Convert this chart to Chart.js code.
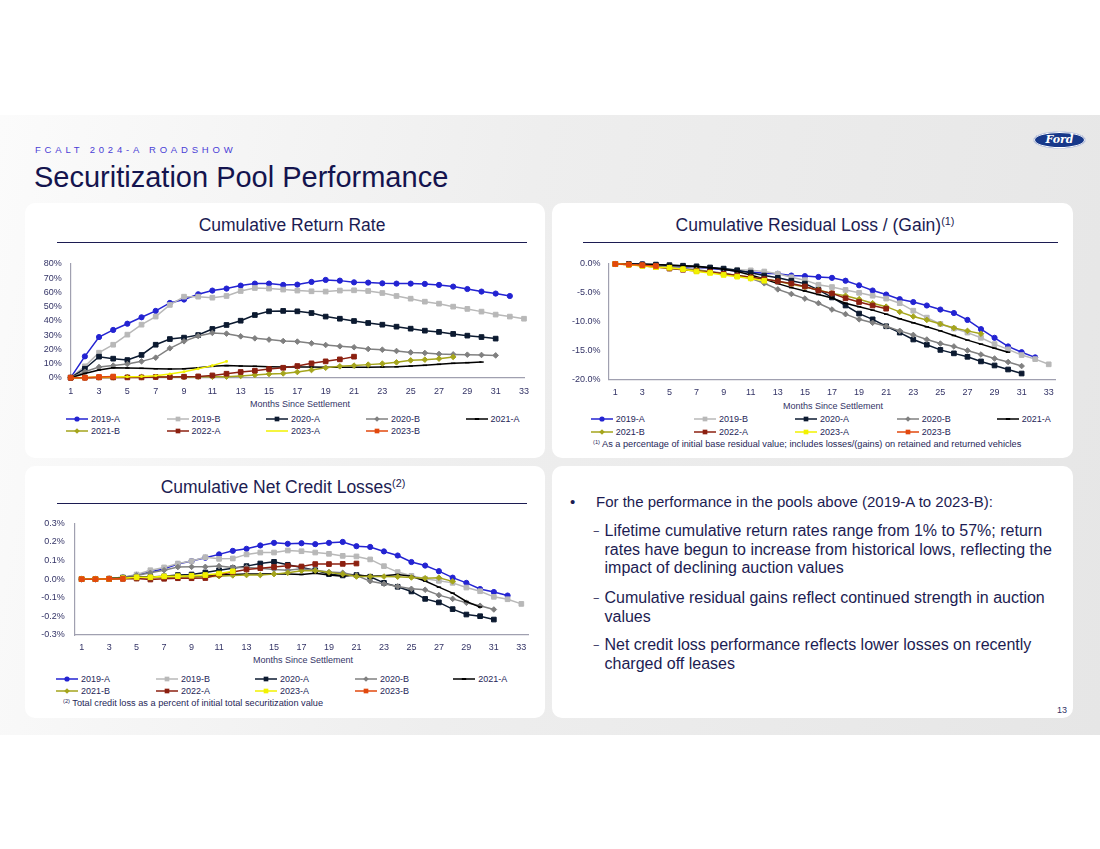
<!DOCTYPE html>
<html><head><meta charset="utf-8">
<script src="https://cdn.jsdelivr.net/npm/chart.js@4.4.1/dist/chart.umd.min.js"></script>
<style>
body{margin:0;width:1100px;height:849px;position:relative;background:#fff;font-family:Arial,"Liberation Sans",sans-serif;overflow:hidden;}
#band{position:absolute;left:0;top:115px;width:1100px;height:620px;background:linear-gradient(100deg,#fbfbfb 0%,#eeeeee 45%,#e6e6e6 100%);}
.panel{position:absolute;background:#fff;border-radius:10px;}
.t{position:absolute;white-space:nowrap;color:#1c1c52;}
.rule{position:absolute;height:1px;background:#1c1c52;}
canvas.ch{position:absolute;}
.lg{position:absolute;height:10px;white-space:nowrap;font-size:9px;line-height:10px;color:#262658;}
.lg canvas{position:absolute;left:0;top:1px;}
.lg span{position:absolute;left:25px;top:0;}
sup{font-size:0.62em;vertical-align:0.6em;line-height:0;}
.dash{font-size:11px;}
</style></head>
<body>
<div id="band"></div>
<div class="panel" style="left:25px;top:203px;width:520px;height:255px"></div>
<div class="panel" style="left:552px;top:203px;width:521px;height:255px"></div>
<div class="panel" style="left:25px;top:466px;width:520px;height:252px"></div>
<div class="panel" style="left:552px;top:466px;width:521px;height:252px"></div>

<div class="t" style="left:35px;top:145px;font-size:9.5px;line-height:10px;letter-spacing:3.8px;color:#4a40d6">FCALT 2024-A ROADSHOW</div>
<div class="t" style="left:34px;top:163px;font-size:29px;line-height:29px;color:#14144e">Securitization Pool Performance</div>
<div style="position:absolute;left:1033px;top:131px;width:51px;height:16px;border-radius:50%;background:#17388a;border:1px solid #d8dcea;box-shadow:inset 0 0 0 1px #fff;color:#fff;font:italic bold 11px 'DejaVu Serif',serif;text-align:center;line-height:16px">Ford</div>

<div class="t" style="left:42px;top:216px;width:500px;text-align:center;font-size:17.5px;line-height:18px">Cumulative Return Rate</div>
<div class="rule" style="left:57px;top:242px;width:470px"></div>
<div class="t" style="left:565px;top:216px;width:500px;text-align:center;font-size:17.5px;line-height:18px">Cumulative Residual Loss / (Gain)<sup>(1)</sup></div>
<div class="rule" style="left:583px;top:242px;width:475px"></div>
<div class="t" style="left:33px;top:478px;width:500px;text-align:center;font-size:17.5px;line-height:18px">Cumulative Net Credit Losses<sup>(2)</sup></div>
<div class="rule" style="left:57px;top:503px;width:470px"></div>

<canvas class="ch" id="c1" width="510" height="140" style="left:30px;top:255px"></canvas>
<canvas class="ch" id="c2" width="510" height="140" style="left:560px;top:255px"></canvas>
<canvas class="ch" id="c3" width="510" height="140" style="left:30px;top:515px"></canvas>

<div class="t" style="left:50px;top:399px;width:500px;text-align:center;font-size:9px;line-height:10px;color:#333366">Months Since Settlement</div>
<div class="t" style="left:583px;top:401px;width:500px;text-align:center;font-size:9px;line-height:10px;color:#333366">Months Since Settlement</div>
<div class="t" style="left:53px;top:655px;width:500px;text-align:center;font-size:9px;line-height:10px;color:#333366">Months Since Settlement</div>

<div class="t" style="left:593px;top:439px;font-size:9.2px;line-height:10px;color:#262658"><sup>(1)</sup> As a percentage of initial base residual value; includes losses/(gains) on retained and returned vehicles</div>
<div class="t" style="left:63px;top:698px;font-size:9.2px;line-height:10px;color:#262658"><sup>(2)</sup> Total credit loss as a percent of initial total securitization value</div>

<div id="legends"></div>

<div class="t" style="left:570px;top:493px;font-size:15px;line-height:18px">•</div>
<div class="t" style="left:596px;top:493px;font-size:15px;line-height:18px">For the performance in the pools above (2019-A to 2023-B):</div>
<div class="t dash" style="left:593px;top:526px;line-height:11px">−</div>
<div class="t" style="left:604.5px;top:522px;font-size:16px;line-height:18.6px">Lifetime cumulative return rates range from 1% to 57%; return<br>rates have begun to increase from historical lows, reflecting the<br>impact of declining auction values</div>
<div class="t dash" style="left:593px;top:593px;line-height:11px">−</div>
<div class="t" style="left:604.5px;top:589px;font-size:16px;line-height:18.6px">Cumulative residual gains reflect continued strength in auction<br>values</div>
<div class="t dash" style="left:593px;top:640px;line-height:11px">−</div>
<div class="t" style="left:604.5px;top:636px;font-size:16px;line-height:18.6px">Net credit loss performance reflects lower losses on recently<br>charged off leases</div>
<div class="t" style="left:1057px;top:705px;font-size:9px;line-height:10px;color:#333366">13</div>

<script>
// ---- categories ----
const months = ['1','2','3','4','5','6','7','8','9','10','11','12','13','14','15','16','17','18','19','20','21','22','23','24','25','26','27','28','29','30','31','32','33'];
const seriesNames = ['2019-A','2019-B','2020-A','2020-B','2021-A','2021-B','2022-A','2023-A','2023-B'];

// ---- Cumulative Return Rate (%) ----
const ret2019A = [0,15,28.6,33.6,38,42.5,47,52.6,55,58.7,61.3,62.7,64.8,66.2,66.2,65.3,65.5,67.4,68.8,68.3,67.1,66.9,66.4,66.2,66.2,66,65.3,64.1,62.4,60.6,59.2,57.5];
const ret2019B = [0,8,17.6,23.2,30.3,37.3,43,51.2,57,57,56.3,57.5,61,63.1,62.7,62,61.3,60.8,60.6,61.3,61.5,61,59.6,57.5,55.6,53.5,52.1,50,48.4,46.5,44.4,43,41.5];
const ret2020A = [0,6.3,14.8,13.4,12.4,16,23.2,27.2,28.2,30,34.3,37.1,40.1,44.1,46.7,47,46.7,45.5,43,41.5,39.9,38.5,37.3,35.9,34.5,33.1,32.2,30.8,29.6,28.6,27.5];
const ret2020B = [0,4.2,7.5,8.5,9.6,11.5,14.1,20.7,25.6,29.3,31.5,31,29.1,27.7,26.8,25.8,25.4,24.2,23,22.1,21.4,20.2,19.7,18.8,17.8,17.4,16.7,16.4,16.2,16,15.7];
const ret2021A = [0,3,5.4,7,6.8,6.6,6.3,6.1,6.3,7,8,8.5,8.2,8,7.7,7.5,7.5,7.5,7.3,7.3,7.3,7.3,7.5,7.7,8.2,8.7,9.4,10.1,10.6,11];
const ret2021B = [0,0,0.2,0.2,0.5,0.5,0.5,0.5,0.5,0.7,0.7,0.7,1.2,1.9,2.6,3,4,5.4,7,8,8.5,9.2,9.9,10.8,12.2,12.7,13.4,14.6];
const ret2022A = [0,0,0.2,0.2,0.2,0.2,0.5,0.5,0.7,0.9,1.6,2.8,4,4.9,6.1,7,8.2,10.1,11.5,12.9,14.8];
const ret2023A = [0,0.2,0.5,0.5,0.7,0.9,1.4,2.6,4.2,6.3,8.5,11.5];
const ret2023B = [0,0,0.5,0.8];

// ---- Cumulative Residual Loss / (Gain) (%) ----
const res2019A = [0,0,-0.05,-0.2,-0.35,-0.5,-0.6,-0.8,-1.0,-1.2,-1.4,-1.6,-1.7,-2.0,-2.1,-2.25,-2.4,-2.9,-3.7,-4.6,-5.3,-6.1,-6.6,-7.2,-7.9,-8.5,-9.7,-11.3,-12.8,-14.3,-15.3,-16.2];
const res2019B = [0,-0.05,-0.1,-0.2,-0.3,-0.4,-0.55,-0.7,-0.85,-1.0,-1.1,-1.3,-1.7,-2.3,-2.8,-3.6,-4.0,-4.5,-5.0,-5.5,-6.0,-6.8,-8.1,-9.3,-10.4,-11.2,-11.9,-12.8,-13.9,-14.8,-15.8,-16.5,-17.4];
const res2020A = [0,0,-0.05,-0.1,-0.2,-0.3,-0.4,-0.6,-0.8,-1.1,-1.5,-2.0,-2.4,-2.9,-3.4,-4.5,-5.8,-7.2,-8.6,-9.6,-10.8,-11.9,-13.1,-14.0,-14.9,-15.5,-16.1,-16.9,-17.6,-18.3,-19.0];
const res2020B = [0,-0.1,-0.2,-0.4,-0.6,-0.8,-1.0,-1.3,-1.6,-2.0,-2.5,-3.35,-4.4,-5.2,-6.0,-6.8,-7.9,-8.7,-9.6,-10.2,-10.8,-11.6,-12.3,-13.1,-13.8,-14.3,-15.0,-15.7,-16.4,-17.0,-17.7];
const res2021A = [0,0,-0.05,-0.1,-0.2,-0.3,-0.45,-0.65,-0.9,-1.3,-1.9,-2.6,-3.4,-4.1,-4.7,-5.3,-5.9,-6.8,-7.4,-8.0,-8.7,-9.5,-10.2,-10.9,-11.6,-12.4,-13.2,-13.9,-14.6,-15.3];
const res2021B = [0,-0.1,-0.3,-0.5,-0.7,-0.9,-1.1,-1.4,-1.7,-2.0,-2.3,-2.6,-3.0,-3.5,-4.0,-4.5,-5.1,-5.5,-6.1,-6.8,-7.4,-8.3,-9.1,-9.7,-10.4,-11.1,-11.6,-12.1];
const res2022A = [0,-0.1,-0.3,-0.5,-0.8,-1.0,-1.2,-1.4,-1.7,-2.0,-2.3,-2.6,-3.0,-3.4,-3.9,-4.6,-5.1,-5.95,-6.6,-7.2,-7.75];
const res2023A = [0,-0.15,-0.35,-0.55,-0.65,-0.9,-1.3,-1.55,-1.9,-2.2,-2.5,-2.9];
const res2023B = [0,-0.1,-0.2,-0.35];

// ---- Cumulative Net Credit Losses (%) ----
const ncl2019A = [0,0,0.002,0.008,0.023,0.038,0.056,0.081,0.097,0.115,0.133,0.152,0.163,0.181,0.195,0.19,0.193,0.188,0.195,0.2,0.177,0.173,0.149,0.127,0.092,0.073,0.043,0.008,-0.02,-0.053,-0.069,-0.088];
const ncl2019B = [0,0,0.003,0.01,0.025,0.048,0.063,0.084,0.097,0.118,0.109,0.111,0.133,0.143,0.143,0.154,0.15,0.143,0.136,0.125,0.122,0.106,0.07,0.038,0.018,0.002,-0.009,-0.02,-0.045,-0.065,-0.095,-0.108,-0.133];
const ncl2020A = [0,0,0.002,0.008,0.012,0.012,0.015,0.022,0.025,0.036,0.048,0.059,0.07,0.084,0.093,0.077,0.063,0.048,0.027,0.02,0.022,0.013,-0.02,-0.041,-0.066,-0.106,-0.125,-0.161,-0.19,-0.199,-0.217];
const ncl2020B = [0,0,0.003,0.01,0.02,0.034,0.048,0.065,0.066,0.066,0.07,0.063,0.063,0.059,0.052,0.048,0.056,0.048,0.038,0.034,0.02,-0.011,-0.025,-0.039,-0.052,-0.057,-0.086,-0.106,-0.127,-0.143,-0.163];
const ncl2021A = [0,0,0.003,0.008,0.01,0.01,0.012,0.015,0.015,0.018,0.022,0.025,0.027,0.027,0.029,0.027,0.025,0.032,0.022,0.016,0.022,0.016,0.018,0.025,0.016,-0.01,-0.043,-0.075,-0.12,-0.15];
const ncl2021B = [0,0,0.002,0.004,0.006,0.008,0.01,0.012,0.012,0.013,0.016,0.02,0.022,0.022,0.027,0.034,0.045,0.046,0.036,0.027,0.014,0.014,0.014,0.013,0.009,0.005,0.008,-0.012];
const ncl2022A = [0,0,0,0.002,0.003,-0.002,0.002,0.005,0.005,0.006,0.025,0.038,0.052,0.059,0.065,0.072,0.068,0.081,0.081,0.082,0.084];
const ncl2023A = [0,0,0.002,0.005,0.01,0.01,0.015,0.016,0.018,0.022,0.03,0.042];
const ncl2023B = [0,0,0.002,0.002];

// ---- styles ----
const seriesColors = ['#2323d2','#b8b8b8','#0c1a30','#808080','#000000','#a5a51c','#8c2010','#f2f200','#e2480e'];
const seriesPoints = ['circle','rect','rect','rectRot','line','rectRot','rect','rect','rect'];
const seriesRadius = [2.6,3.3,3.3,2.8,2.2,2.8,3.3,3.3,3.3];
const FONT = "'Liberation Sans', Arial, sans-serif";
const tickColor = '#333366';
const axisColor = '#a0a0b0';

function makeDatasets(list, radiusOverride) {
  return list.map((d, i) => ({
    label: seriesNames[i], data: d,
    borderColor: seriesColors[i], backgroundColor: seriesColors[i],
    pointStyle: seriesPoints[i],
    pointRadius: radiusOverride && radiusOverride[i] !== undefined ? radiusOverride[i] : seriesRadius[i],
    pointBorderWidth: seriesPoints[i] === 'line' ? 1.5 : 1,
    borderWidth: 1.5, tension: 0, clip: false, order: list.length - i
  }));
}

function buildChart(id, datasets, c) {
  return new Chart(document.getElementById(id), {
    type: 'line',
    data: { labels: months, datasets: datasets },
    options: {
      responsive: false, animation: false, devicePixelRatio: 1,
      layout: { padding: { top: c.padTop, right: c.padRight, left: 0, bottom: 0 } },
      plugins: { legend: { display: false }, tooltip: { enabled: false } },
      scales: {
        x: {
          type: 'category', offset: c.offset,
          grid: { display: false, drawTicks: false },
          border: { color: axisColor, width: 1.2 },
          ticks: { autoSkip: false, maxRotation: 0, padding: c.xPad, color: tickColor, font: { size: 9, family: FONT },
            callback: function (v, i) { return i % 2 === 0 ? this.getLabelForValue(v) : ''; } },
          afterFit: s => { s.height = c.xH; s.paddingLeft = 0; s.paddingRight = 0; }
        },
        y: {
          min: c.min, max: c.max,
          grid: { display: false, drawTicks: false },
          border: { color: axisColor, width: 1.2 },
          ticks: { stepSize: c.step, padding: c.yPad, color: tickColor, font: { size: 9, family: FONT }, callback: c.fmt },
          afterFit: s => { s.width = c.yW; s.paddingTop = 0; s.paddingBottom = 0; }
        }
      }
    }
  });
}

buildChart('c1', makeDatasets([ret2019A, ret2019B, ret2020A, ret2020B, ret2021A, ret2021B, ret2022A, ret2023A, ret2023B], {7: 1.2}), {
  padTop: 9, padRight: 16, offset: false, xPad: 8, xH: 17.3, yW: 40.7, yPad: 9,
  min: 0, max: 80, step: 10, fmt: v => v + '%'
});
buildChart('c2', makeDatasets([res2019A, res2019B, res2020A, res2020B, res2021A, res2021B, res2022A, res2023A, res2023B]), {
  padTop: 9, padRight: 14.5, offset: true, xPad: 8, xH: 15.7, yW: 48.5, yPad: 8,
  min: -20, max: 0, step: 5, fmt: v => (Math.abs(v) < 1e-9 ? 0 : v).toFixed(1) + '%'
});
buildChart('c3', makeDatasets([ncl2019A, ncl2019B, ncl2020A, ncl2020B, ncl2021A, ncl2021B, ncl2022A, ncl2023A, ncl2023B]), {
  padTop: 8.3, padRight: 11.8, offset: true, xPad: 7, xH: 20, yW: 44.8, yPad: 10,
  min: -0.3, max: 0.3, step: 0.1, fmt: v => (Math.abs(v) < 1e-9 ? 0 : v).toFixed(1) + '%'
});

// ---- HTML legends (from the same series names / styles) ----
function drawMarker(ctx, style, x, y, r, color) {
  ctx.fillStyle = color; ctx.strokeStyle = color; ctx.lineWidth = 1;
  ctx.beginPath();
  if (style === 'circle') { ctx.arc(x, y, r, 0, Math.PI * 2); ctx.fill(); }
  else if (style === 'rect') { const s = r * Math.SQRT1_2; ctx.rect(x - s, y - s, 2 * s, 2 * s); ctx.fill(); }
  else if (style === 'rectRot') { ctx.moveTo(x, y - r); ctx.lineTo(x + r, y); ctx.lineTo(x, y + r); ctx.lineTo(x - r, y); ctx.closePath(); ctx.fill(); }
  else if (style === 'line') { ctx.lineWidth = 2; ctx.moveTo(x - r, y); ctx.lineTo(x + r, y); ctx.stroke(); }
}
function makeLegend(cols, rows, noMarker) {
  const host = document.getElementById('legends');
  seriesNames.forEach((name, i) => {
    const row = i < 5 ? 0 : 1, col = i < 5 ? i : i - 5;
    const div = document.createElement('div');
    div.className = 'lg';
    div.style.left = cols[col] + 'px';
    div.style.top = (rows[row] - 5) + 'px';
    const cv = document.createElement('canvas');
    cv.width = 24; cv.height = 8;
    const ctx = cv.getContext('2d');
    ctx.strokeStyle = seriesColors[i]; ctx.lineWidth = 1.5;
    ctx.beginPath(); ctx.moveTo(0, 4); ctx.lineTo(22, 4); ctx.stroke();
    if (!(noMarker && noMarker.includes(i))) drawMarker(ctx, seriesPoints[i], 11, 4, seriesRadius[i], seriesColors[i]);
    const sp = document.createElement('span');
    sp.textContent = name;
    div.appendChild(cv); div.appendChild(sp);
    host.appendChild(div);
  });
}
makeLegend([66, 166.5, 266, 366, 465.5], [419.3, 430.7], [7]);
makeLegend([590.7, 694, 795, 896.7, 996.7], [419.3, 432]);
makeLegend([56, 156, 255, 355, 453.3], [679.3, 691.3]);
</script>
</body></html>
